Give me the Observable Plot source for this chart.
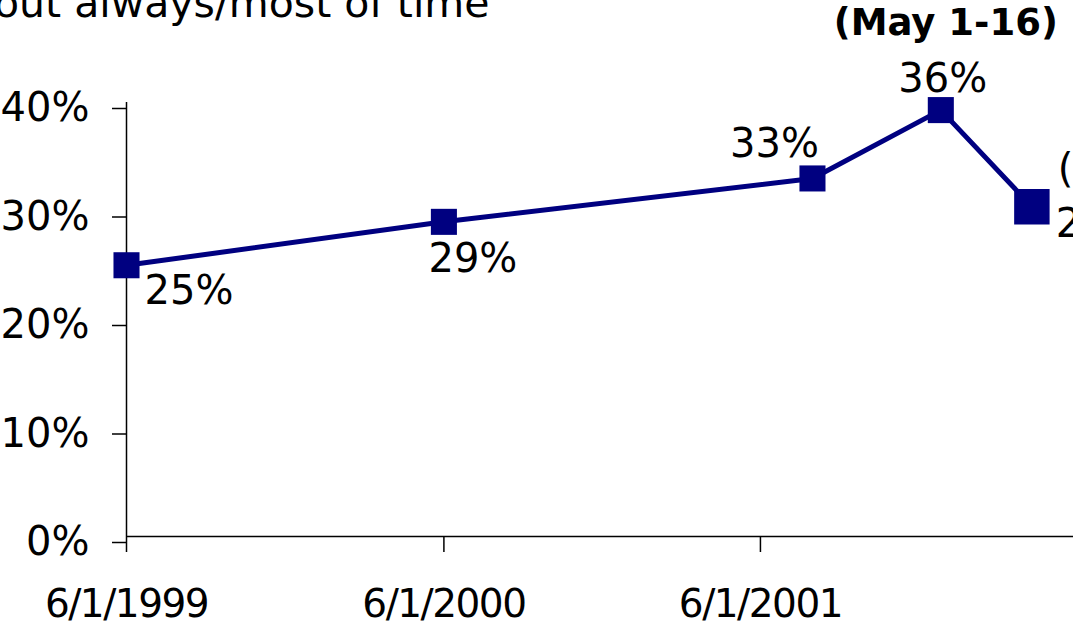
<!DOCTYPE html>
<html><head><meta charset="utf-8">
<script src="https://cdn.jsdelivr.net/npm/d3@7"></script>
<script src="https://cdn.jsdelivr.net/npm/@observablehq/plot@0.6"></script>
<style>
html,body{margin:0;padding:0;background:#fff;overflow:hidden;width:1073px;height:627px;}
#wrap{position:relative;width:1073px;height:627px;overflow:hidden;}
#title{position:absolute;left:-6px;top:-17px;font-family:"DejaVu Sans";font-size:41px;line-height:41px;white-space:nowrap;color:#000;}
#chart{position:absolute;left:0;top:0;}
#chart g[aria-label="x-axis tick label"] text{letter-spacing:-1.5px;}
</style></head><body>
<div id="wrap"><div id="chart"></div><div id="title"></div></div>
<script>
// ---- data ----
const titleText = "out always/most of time";
const dates = ["1999-06-01", "2000-06-01", "2001-07-31", "2001-12-26", "2002-04-10"];
const values = [25, 29, 33, 39.3, 30.4];
const valueLabels = ["25%", "29%", "33%", "36%", "2"];
const periodLabels = ["", "", "", "(May 1-16)", "("];
const xTicks = ["1999-06-01", "2000-06-01", "2001-06-01"];
const xTickLabels = ["6/1/1999", "6/1/2000", "6/1/2001"];
const yTicks = [0, 10, 20, 30, 40];
const yTickLabels = ["0%", "10%", "20%", "30%", "40%"];
const xDomain = ["1999-06-01", "2002-05-28"];

// ---- build ----
document.getElementById("title").textContent = titleText;
const data = dates.map((d, i) => ({date: new Date(d), value: values[i], label: valueLabels[i], period: periodLabels[i], i}));
const xTickDates = xTicks.map(d => new Date(d));
const navy = "#000080";
const font = "DejaVu Sans";

// label placement (style, not data)
const valuePlace = [
  {anchor: "start", dx: 18, dy: 26},
  {anchor: "middle", dx: 29, dy: 37},
  {anchor: "middle", dx: -38, dy: -34},
  {anchor: "middle", dx: 2, dy: -31},
  {anchor: "start", dx: 24, dy: 18}
];
const periodPlace = {3: {anchor: "middle", dx: 5, dy: -87, size: 37, weight: "bold"}, 4: {anchor: "start", dx: 26, dy: -37, size: 40, weight: "normal"}};

const marks = [
  Plot.ruleY([0], {stroke: "black", strokeWidth: 1.5}),
  Plot.ruleX([new Date(xDomain[0])], {y1: 0, y2: 40, stroke: "black", strokeWidth: 1.5}),
  Plot.axisY({ticks: yTicks, tickFormat: d => yTickLabels[yTicks.indexOf(d)], tickSize: 14, tickPadding: 23, fontSize: 40, dy: 6, stroke: "black", strokeWidth: 1.5, label: null}),
  Plot.axisX({ticks: xTickDates, tickFormat: d => xTickLabels[xTickDates.findIndex(t => +t === +d)], tickSize: 16, tickPadding: 37, fontSize: 39, stroke: "black", strokeWidth: 1.5, label: null}),
  Plot.line(data, {x: "date", y: "value", stroke: navy, strokeWidth: 5}),
  Plot.dot(data.filter(d => d.i < data.length - 1), {x: "date", y: "value", symbol: "square", r: 14.7, fill: navy, stroke: "none"}),
  Plot.dot(data.filter(d => d.i === data.length - 1), {x: "date", y: "value", symbol: "square", r: 20, fill: navy, stroke: "none"})
];
data.forEach((d, i) => {
  const p = valuePlace[i];
  marks.push(Plot.text([d], {x: "date", y: "value", text: "label", textAnchor: p.anchor, dx: p.dx, dy: p.dy, fontSize: 40, fill: "black"}));
  const q = periodPlace[i];
  if (q && d.period) marks.push(Plot.text([d], {x: "date", y: "value", text: "period", textAnchor: q.anchor, dx: q.dx, dy: q.dy, fontSize: q.size, fontWeight: q.weight, fill: "black"}));
});

const chart = Plot.plot({
  width: 1073,
  height: 627,
  marginLeft: 126,
  marginRight: 0,
  marginTop: 102,
  marginBottom: 91,
  style: {fontFamily: font, fontSize: "40px", background: "white", color: "black", overflow: "visible"},
  x: {type: "utc", domain: xDomain.map(d => new Date(d))},
  y: {domain: [0, 40]},
  marks
});
document.getElementById("chart").appendChild(chart);
</script>
</body></html>
